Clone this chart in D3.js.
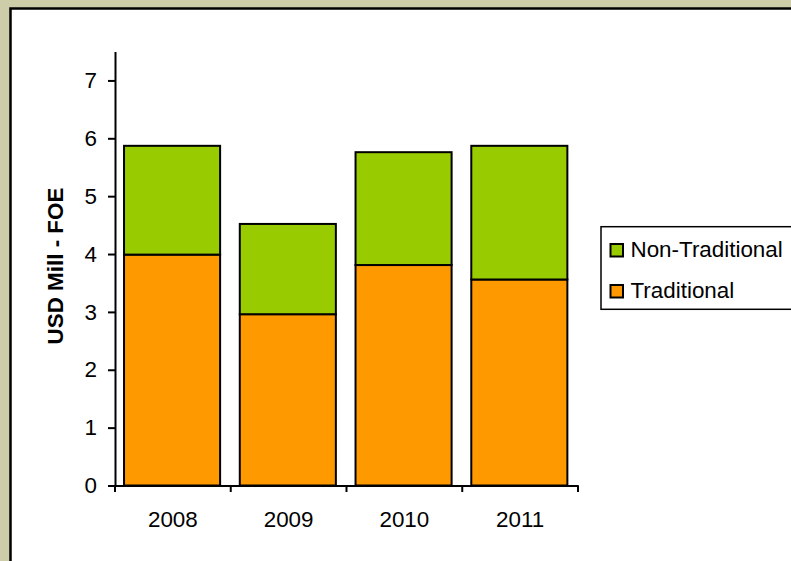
<!DOCTYPE html>
<html>
<head>
<meta charset="utf-8">
<script src="https://cdn.jsdelivr.net/npm/d3@7"></script>
<style>
  html, body { margin: 0; padding: 0; background: #cdcdaa; }
  svg { display: block; }
  text { font-family: "Liberation Sans", Arial, sans-serif; fill: #000; }
</style>
</head>
<body>
<svg id="chart" width="791" height="561"></svg>
<script>
// Export values, USD millions FOE, by year
const years = ["2008", "2009", "2010", "2011"];
const traditional = [3.99, 2.96, 3.81, 3.56];
const nonTraditional = [1.88, 1.56, 1.95, 2.31];
const yTicks = [0, 1, 2, 3, 4, 5, 6, 7];
const seriesNames = ["Traditional", "Non-Traditional"];
const seriesColors = ["#ff9900", "#99cc00"];

const FONT = "22.4px";
const svg = d3.select("#chart");

// chart panel with its dark frame
svg.append("rect")
  .attr("x", 10.5).attr("y", 8.5)
  .attr("width", 900).attr("height", 700)
  .attr("fill", "#ffffff")
  .attr("stroke", "#000").attr("stroke-width", 2.5);

const x = d3.scaleBand().domain(years).range([115, 578]).padding(0);
const y = d3.scaleLinear().domain([0, 7.5]).range([485.5, 51.5]);

// stacked rows
const rows = years.map((yr, i) => ({ year: yr, "Traditional": traditional[i], "Non-Traditional": nonTraditional[i] }));
const stack = d3.stack().keys(seriesNames)(rows);
const color = d3.scaleOrdinal().domain(seriesNames).range(seriesColors);

const barW = x.bandwidth() * 0.83;
const barOff = (x.bandwidth() - barW) / 2 - 0.8;

svg.append("g").selectAll("g")
  .data(stack)
  .join("g")
    .attr("fill", d => color(d.key))
  .selectAll("rect")
  .data(d => d)
  .join("rect")
    .attr("x", d => x(d.data.year) + barOff)
    .attr("y", d => y(d[1]))
    .attr("width", barW)
    .attr("height", d => y(d[0]) - y(d[1]))
    .attr("stroke", "#000")
    .attr("stroke-width", 2);

// y axis
const yAxis = svg.append("g")
  .attr("transform", "translate(115,0)")
  .call(d3.axisLeft(y).tickValues(yTicks).tickFormat(d3.format("d"))
    .tickSize(7).tickSizeOuter(0).tickPadding(11));
yAxis.select(".domain").attr("stroke", "#000").attr("stroke-width", 2);
yAxis.selectAll(".tick line").attr("stroke", "#000").attr("stroke-width", 2);
yAxis.selectAll("text").style("font-size", FONT).attr("font-family", "Liberation Sans, Arial, sans-serif");

// x axis: labels centred under bars, ticks at category boundaries
const xAxis = svg.append("g")
  .attr("transform", "translate(0,485.5)")
  .call(d3.axisBottom(x).tickSize(0).tickPadding(26));
xAxis.select(".domain").attr("stroke", "#000").attr("stroke-width", 2);
xAxis.selectAll("text").style("font-size", FONT).attr("font-family", "Liberation Sans, Arial, sans-serif");

const bounds = years.map(d => x(d)).concat([x(years[years.length - 1]) + x.step()]);
xAxis.selectAll(".bound")
  .data(bounds)
  .join("line")
    .attr("class", "bound")
    .attr("x1", d => d).attr("x2", d => d)
    .attr("y1", 0).attr("y2", 6.5)
    .attr("stroke", "#000").attr("stroke-width", 2);

// y axis title
svg.append("text")
  .attr("transform", "translate(63,266) rotate(-90)")
  .attr("text-anchor", "middle")
  .style("font-size", FONT)
  .style("font-weight", "bold")
  .text("USD Mill - FOE");

// legend
const legend = svg.append("g");
legend.append("rect")
  .attr("x", 601).attr("y", 226.7)
  .attr("width", 300).attr("height", 82.6)
  .attr("fill", "#fff")
  .attr("stroke", "#000").attr("stroke-width", 1.5);

const legendItems = ["Non-Traditional", "Traditional"];
const ly = d3.scalePoint().domain(legendItems).range([256.7, 297.7]);
const li = legend.selectAll(".item")
  .data(legendItems)
  .join("g")
    .attr("class", "item");
li.append("rect")
  .attr("x", 610.5)
  .attr("y", d => ly(d) - 12.7)
  .attr("width", 12.5).attr("height", 12.5)
  .attr("fill", d => color(d))
  .attr("stroke", "#000").attr("stroke-width", 2);
li.append("text")
  .attr("x", 630.5)
  .attr("y", d => ly(d))
  .style("font-size", FONT)
  .text(d => d);
</script>
</body>
</html>
